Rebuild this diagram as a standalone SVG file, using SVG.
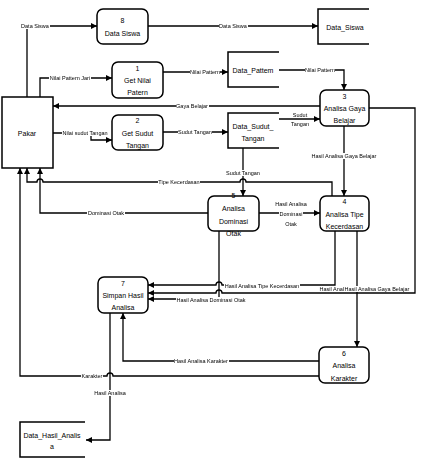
<svg xmlns="http://www.w3.org/2000/svg" width="422" height="461" viewBox="0 0 422 461">
<style>
.proc{fill:#fff;stroke:#000;stroke-width:1.5}
.ext{fill:#fff;stroke:#000;stroke-width:1.5}
.store{fill:none;stroke:#000;stroke-width:1.5}
.nt{font-family:"Liberation Sans",Arial,sans-serif;font-size:7px;text-anchor:middle;fill:#000}
.lb{font-family:"Liberation Sans",Arial,sans-serif;font-size:5.5px;text-anchor:middle;fill:#000;filter:url(#bg)}
.c{fill:none;stroke:#000;stroke-width:1.3}
.a{marker-end:url(#ah)}
</style>
<defs>
<marker id="ah" viewBox="0 0 8 8" refX="8" refY="4" markerWidth="6" markerHeight="6" markerUnits="userSpaceOnUse" orient="auto"><path d="M0,0 L8,4 L0,8 z" fill="#000"/></marker>
<filter id="bg" x="0" y="0" width="1" height="1" color-interpolation-filters="sRGB"><feFlood flood-color="#fff"/><feComposite in="SourceGraphic" operator="over"/></filter>
</defs>
<rect width="422" height="461" fill="#fff"/>
<g id="connectors">
<path class="c a" d="M27,97 V26 H97"/>
<path class="c a" d="M148,26 H318"/>
<path class="c a" d="M40,97 V78 H112"/>
<path class="c a" d="M163,72 H228"/>
<path class="c a" d="M279,70 H344 V90"/>
<path class="c a" d="M320,106 H53"/>
<path class="c a" d="M53,133 H91 V140 H112"/>
<path class="c a" d="M163,132 H228"/>
<path class="c a" d="M279,119 H320"/>
<path class="c a" d="M243,148 V196"/>
<path class="c a" d="M332,196 V182 H246 A3,3 0 0 0 240,182 H43 A3,3 0 0 0 37,182 H27 V168"/>
<path class="c a" d="M208,213 H40 V168"/>
<path class="c a" d="M259,213 H320"/>
<path class="c a" d="M344,126 V196"/>
<path class="c a" d="M369,108 H415 V293 H222 A3,3 0 0 0 216,293 H148"/>
<path class="c a" d="M335,231 V285 H222 A3,3 0 0 0 216,285 H148"/>
<path class="c a" d="M219,231 V299 H148"/>
<path class="c a" d="M357,231 V347"/>
<path class="c a" d="M319,361 H123 V313"/>
<path class="c a" d="M319,376 H113 A3,3 0 0 0 107,376 H20 V168"/>
<path class="c a" d="M110,313 V440 H86"/>
<text class="lb" x="35" y="28">Data Siswa</text>
<text class="lb" x="233" y="28">Data Siswa</text>
<text class="lb" x="70" y="80">Nilai Pattern Jari</text>
<text class="lb" x="205" y="74">Nilai Pattern</text>
<text class="lb" x="320" y="72">Nilai Pattern</text>
<text class="lb" x="192" y="108">Gaya Belajar</text>
<text class="lb" x="85" y="135">Nilai sudut Tangan</text>
<text class="lb" x="195" y="134">Sudut Tangan</text>
<text class="lb" x="300" y="117">Sudut</text>
<text class="lb" x="300" y="126">Tangan</text>
<text class="lb" x="243" y="175">Sudut Tangan</text>
<text class="lb" x="179" y="184">Tipe Kecerdasan</text>
<text class="lb" x="106" y="215">Dominasi Otak</text>
<text class="lb" x="291" y="206">Hasil Analisa</text>
<text class="lb" x="291" y="216">Dominasi</text>
<text class="lb" x="291" y="226">Otak</text>
<text class="lb" x="344" y="158">Hasil Analisa Gaya Belajar</text>
<text class="lb" x="262" y="288">Hasil Analisa Tipe Kecerdasan</text>
<text class="lb" x="211" y="302">Hasil Analisa Dominasi Otak</text>
<text class="lb" x="344" y="291" style="text-anchor:end">Hasil Anal</text>
<text class="lb" x="344.5" y="291" style="text-anchor:start">Hasil Analisa Gaya Belajar</text>
<text class="lb" x="201" y="363">Hasil Analisa Karakter</text>
<text class="lb" x="92" y="378">Karakter</text>
<text class="lb" x="110" y="395">Hasil Analisa</text>
</g>
<g id="pakar">
<rect class="ext" x="2" y="97" width="51" height="71"/>
<text class="nt" x="27" y="136">Pakar</text>
</g>
<g id="p8">
<rect class="proc" x="97" y="9" width="51" height="35" rx="6"/>
<text class="nt" x="122.5" y="23">8</text>
<text class="nt" x="122.5" y="36">Data Siswa</text>
</g>
<g id="p1">
<rect class="proc" x="112" y="62" width="51" height="36" rx="6"/>
<text class="nt" x="137.5" y="71">1</text>
<text class="nt" x="137.5" y="83">Get Nilai</text>
<text class="nt" x="137.5" y="95">Patern</text>
</g>
<g id="p2">
<rect class="proc" x="112" y="115" width="51" height="35" rx="6"/>
<text class="nt" x="137.5" y="123">2</text>
<text class="nt" x="137.5" y="136">Get Sudut</text>
<text class="nt" x="137.5" y="148">Tangan</text>
</g>
<g id="p3">
<rect class="proc" x="320" y="90" width="49" height="36" rx="6"/>
<text class="nt" x="344.5" y="99">3</text>
<text class="nt" x="344.5" y="111">Analisa Gaya</text>
<text class="nt" x="344.5" y="123">Belajar</text>
</g>
<g id="p5">
<rect class="proc" x="208" y="196" width="51" height="35" rx="6"/>
<text class="nt" x="233.5" y="198">5</text>
<text class="nt" x="233.5" y="211">Analisa</text>
<text class="nt" x="233.5" y="224">Dominasi</text>
<text class="nt" x="233.5" y="236">Otak</text>
</g>
<g id="p4">
<rect class="proc" x="320" y="196" width="49" height="35" rx="6"/>
<text class="nt" x="344.5" y="204">4</text>
<text class="nt" x="344.5" y="217">Analisa Tipe</text>
<text class="nt" x="344.5" y="229">Kecerdasan</text>
</g>
<g id="p7">
<rect class="proc" x="98" y="277" width="50" height="36" rx="6"/>
<text class="nt" x="123" y="286">7</text>
<text class="nt" x="123" y="298">Simpan Hasil</text>
<text class="nt" x="123" y="310">Analisa</text>
</g>
<g id="p6">
<rect class="proc" x="319" y="347" width="50" height="36" rx="6"/>
<text class="nt" x="344" y="356">6</text>
<text class="nt" x="344" y="368">Analisa</text>
<text class="nt" x="344" y="381">Karakter</text>
</g>
<g id="ds_siswa">
<path class="store" d="M369,9 H318 V44 H369"/>
<text class="nt" x="345" y="30">Data_Siswa</text>
</g>
<g id="ds_pattem">
<path class="store" d="M279,52 H228 V87 H279"/>
<text class="nt" x="253" y="73">Data_Pattem</text>
</g>
<g id="ds_sudut">
<path class="store" d="M279,113 H228 V148 H279"/>
<text class="nt" x="253" y="129">Data_Sudut_</text>
<text class="nt" x="253" y="141">Tangan</text>
</g>
<g id="ds_hasil">
<path class="store" d="M85,422 H20 V457 H85"/>
<text class="nt" x="52" y="438">Data_Hasil_Analis</text>
<text class="nt" x="52" y="449">a</text>
</g>
</svg>
